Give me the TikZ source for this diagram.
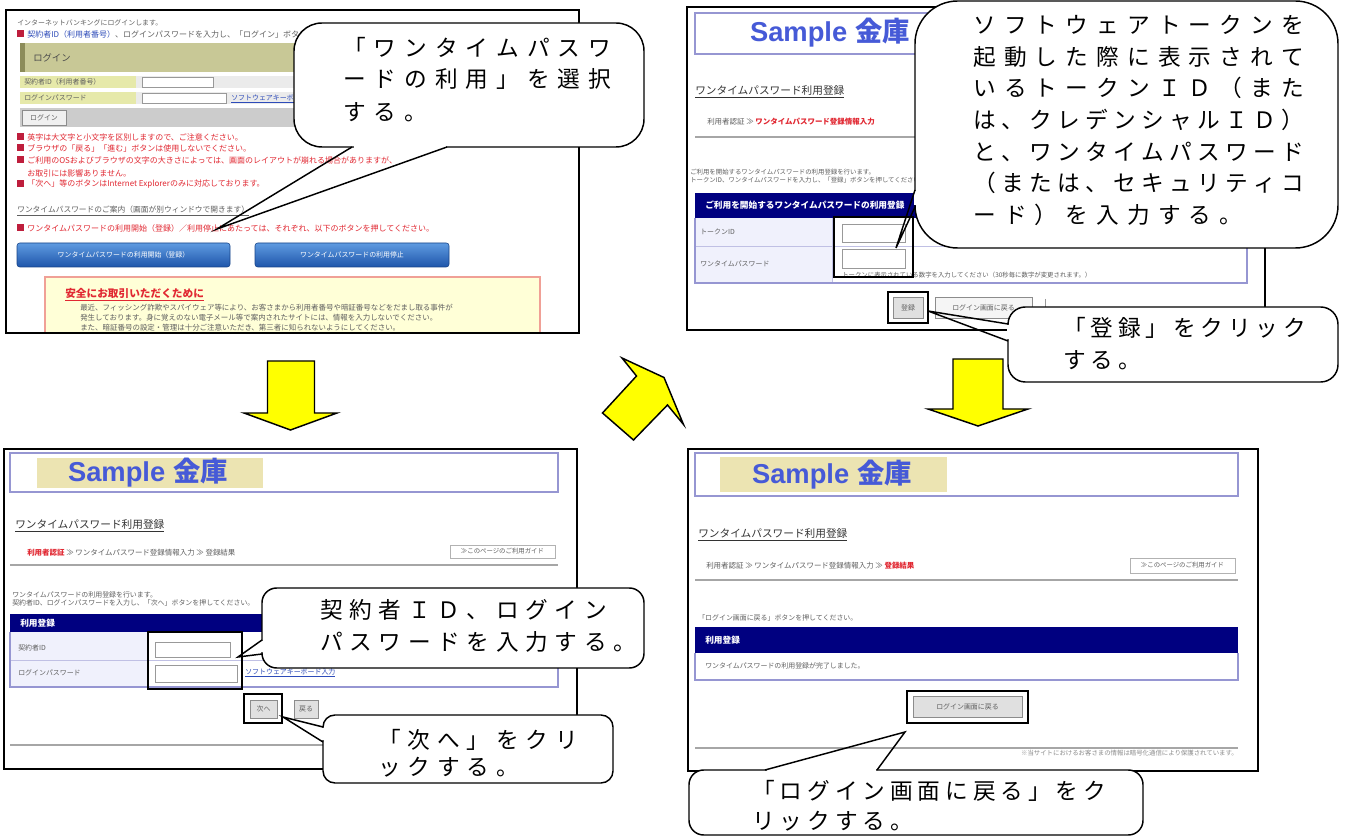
\documentclass[tikz,border=0pt]{standalone}
\usepackage{fontspec}
\setmainfont{Noto Sans CJK JP}
\newfontfamily\jpf{Noto Sans CJK JP}
\newfontfamily\latf{Liberation Sans}
\definecolor{navyc}{RGB}{0,0,128}
\definecolor{lav}{RGB}{150,150,210}
\definecolor{lablbg}{RGB}{240,241,252}
\definecolor{tanc}{RGB}{236,228,178}
\definecolor{olivec}{RGB}{200,200,150}
\definecolor{olived}{RGB}{140,140,90}
\definecolor{p1lbl}{RGB}{230,233,170}
\definecolor{txtg}{RGB}{95,95,95}
\definecolor{redt}{RGB}{225,40,50}
\definecolor{bulr}{RGB}{190,30,60}
\definecolor{linkb}{RGB}{45,75,185}
\definecolor{ttlb}{RGB}{70,90,215}
\definecolor{btnt}{RGB}{95,155,225}
\definecolor{btnb}{RGB}{30,85,170}
\definecolor{yelbox}{RGB}{255,255,215}
\definecolor{yelbd}{RGB}{240,160,150}
\definecolor{arry}{RGB}{255,255,0}
\makeatletter
\newlength\cpitch
\newcommand\ltr[2]{\setlength\cpitch{#1}\@tfor\pchr:=#2\do{\makebox[\cpitch][l]{\pchr}}}
\makeatother
\tikzset{
  pframe/.style={draw=black, line width=1.1pt},
  pframethick/.style={draw=black, line width=1.6pt},
  hlbox/.style={draw=black, line width=1.4pt},
  cbody/.style={fill=white, draw=black, line width=1.1pt, inner sep=0pt, outer sep=0pt},
  cptr/.style={draw=black, line width=1.1pt, line join=miter},
  cgap/.style={draw=white, line width=2.2pt},
  cline/.style={anchor=west, inner sep=0pt, font=\jpf\fontsize{17}{20}\selectfont},
  stx/.style={anchor=west, inner sep=0pt, text=txtg, font=\jpf\fontsize{5.2}{6}\selectfont},
  stxm/.style={stx, font=\jpf\fontsize{5.6}{6}\selectfont},
  stxs/.style={stx, font=\jpf\fontsize{4.8}{5}\selectfont},
  stxr/.style={stx, text=redt, font=\jpf\fontsize{6}{7}\selectfont},
  stxw/.style={stx, text=white, font=\jpf\bfseries\fontsize{6.5}{7}\selectfont},
  hd/.style={anchor=west, inner sep=0pt, text=black!80, font=\jpf\fontsize{8}{9}\selectfont},
  ttl/.style={inner sep=0pt, text=ttlb, font=\bfseries\fontsize{20.5}{22}\selectfont},
  arrowy/.style={fill=arry, draw=black, line width=1.1pt, line join=miter},
  btn/.style={fill=black!12, draw=black!45, line width=0.5pt},
  inbox/.style={fill=white, draw=black!40, line width=0.5pt},
  thinl/.style={draw=black!35, line width=0.8pt},
  lavl/.style={draw=lav, line width=0.9pt},
  lavd/.style={draw=lav!60, line width=0.6pt},
}
\begin{document}
\begin{tikzpicture}[x=0.75pt,y=-0.75pt]
\useasboundingbox (0,0) rectangle (1347,837);
\fill[white] (0,0) rectangle (1347,837);

%% ================= Panel 1 =================
\begin{scope}
\clip (6,10) rectangle (579,333);
\node[stx] (p1a) at (17,23) {インターネットバンキングにログインします。};
\fill[bulr] (17,30.5) rectangle (24,37.5);
\node[stx, font=\jpf\fontsize{6}{7}\selectfont] (p1b) at (27,34) {\textcolor{linkb}{契約者ID（利用者番号）}、ログインパスワードを入力し、「ログイン」ボタンを押してください。};
\fill[olivec] (20,43) rectangle (577,72);
\fill[olived] (20,43) rectangle (25,72);
\node[stx, text=black!70, font=\jpf\fontsize{7}{8}\selectfont] (p1c) at (33,58) {ログイン};
\fill[p1lbl] (20,76) rectangle (136,88);
\fill[black!8] (136,76) rectangle (577,88);
\fill[p1lbl] (20,92) rectangle (136,104);
\fill[black!8] (136,92) rectangle (577,104);
\node[stx] (p1d) at (24,82) {契約者ID（利用者番号）};
\node[stx] (p1e) at (24,98) {ログインパスワード};
\draw[inbox] (142,77) rectangle (213,87);
\draw[inbox] (142,93) rectangle (226,103);
\node[stx, text=linkb] (p1f) at (231,99) {\underline{ソフトウェアキーボード入力}};
\fill[black!20] (20,108) rectangle (577,127);
\draw[btn, fill=black!6] (22,110) rectangle (66,125);
\node[stx, anchor=center] (p1g) at (44,117.5) {ログイン};
\fill[bulr] (17,133.5) rectangle (24,140.5);
\node[stxr] (p1h) at (27,137) {英字は大文字と小文字を区別しますので、ご注意ください。};
\fill[bulr] (17,144.5) rectangle (24,151.5);
\node[stxr] (p1i) at (27,148) {ブラウザの「戻る」「進む」ボタンは使用しないでください。};
\fill[bulr] (17,156.5) rectangle (24,163.5);
\node[stxr] (p1j) at (27,160) {ご利用のOSおよびブラウザの文字の大きさによっては、画面のレイアウトが崩れる場合がありますが、};
\node[stxr] (p1k) at (27,173) {お取引には影響ありません。};
\fill[bulr] (17,180.5) rectangle (24,187.5);
\node[stxr] (p1l) at (27,184) {「次へ」等のボタンはInternet Explorerのみに対応しております。};
\node[stx, font=\jpf\fontsize{5.8}{6}\selectfont] (p1m) at (17,211) {\underline{ワンタイムパスワードのご案内（画面が別ウィンドウで開きます）}};
\fill[bulr] (17,224.5) rectangle (24,231.5);
\node[stxr] (p1n) at (27,228) {ワンタイムパスワードの利用開始（登録）／利用停止にあたっては、それぞれ、以下のボタンを押してください。};
\draw[rounded corners=2pt, top color=btnt, bottom color=btnb, draw=btnb!80!black] (17,243) rectangle (230,267);
\node[stx, anchor=center, text=white] (p1o) at (123.5,255) {ワンタイムパスワードの利用開始（登録）};
\draw[rounded corners=2pt, top color=btnt, bottom color=btnb, draw=btnb!80!black] (255,243) rectangle (449,267);
\node[stx, anchor=center, text=white] (p1p) at (352,255) {ワンタイムパスワードの利用停止};
\draw[fill=yelbox, draw=yelbd, line width=0.8pt] (45,277) rectangle (540,345);
\node[stx, text=redt, font=\jpf\bfseries\fontsize{8}{9}\selectfont] (p1q) at (65,295) {\underline{安全にお取引いただくために}};
\begin{scope}
\clip (45,277) rectangle (537,345);
\node[stx, font=\jpf\fontsize{5.6}{6}\selectfont] (p1r) at (80,308) {最近、フィッシング詐欺やスパイウェア等により、お客さまから利用者番号や暗証番号などをだまし取る事件が};
\node[stx, font=\jpf\fontsize{5.6}{6}\selectfont] (p1s) at (80,318) {発生しております。身に覚えのない電子メール等で案内されたサイトには、情報を入力しないでください。};
\node[stx, font=\jpf\fontsize{5.6}{6}\selectfont] (p1t) at (80,328) {また、暗証番号の設定・管理は十分ご注意いただき、第三者に知られないようにしてください。};
\end{scope}
\end{scope}
\draw[pframethick] (6,10) rectangle (579,333);

%% ================= Panel 2 =================
\begin{scope}
\clip (687,7) rectangle (1265,330);
\draw[lavl, line width=0.8pt] (695,13) rectangle (1255,54);
\node[ttl] (p2t) at (830,33) {{\latf Sample}\hspace{6pt}{\jpf 金庫}};
\node[hd] (p2a) at (695,92) {\underline{ワンタイムパスワード利用登録}};
\node[stxm] (p2b) at (707,122) {利用者認証 ≫ \textcolor{redt}{\bfseries ワンタイムパスワード登録情報入力}};
\draw[thinl] (695,137) -- (1255,137);
\node[stxs] (p2c) at (690,172) {ご利用を開始するワンタイムパスワードの利用登録を行います。};
\node[stxs] (p2d) at (690,180) {トークンID、ワンタイムパスワードを入力し、「登録」ボタンを押してください。};
\fill[navyc] (695,193) rectangle (1247,218);
\node[stxw] (p2e) at (705,205) {ご利用を開始するワンタイムパスワードの利用登録};
\fill[lablbg] (695,218) rectangle (832,283);
\draw[lavd] (695,246) -- (1247,246);
\draw[lavd] (832,218) -- (832,283);
\draw[lavl] (695,218) -- (695,283) -- (1247,283) -- (1247,218);
\node[stx] (p2f) at (700,232) {トークンID};
\node[stx] (p2g) at (700,264) {ワンタイムパスワード};
\draw[inbox] (842,224) rectangle (905,242);
\draw[inbox] (842,249) rectangle (905,268);
\node[stxs] (p2h) at (842,275) {トークンに表示されている数字を入力してください（30秒毎に数字が変更されます。）};
\draw[btn] (893,297) rectangle (923,318);
\node[stx, anchor=center] (p2i) at (908,307.5) {登録};
\draw[btn, fill=black!4] (935,297) rectangle (1032,318);
\node[stx, anchor=center] (p2j) at (983.5,307.5) {ログイン画面に戻る};
\draw[draw=black!40] (1045,299) -- (1045,316);
\end{scope}
\draw[pframe] (687,7) rectangle (1265,330);

%% ================= Panel 3 =================
\begin{scope}
\clip (4,449) rectangle (577,769);
\draw[lavl, line width=0.8pt] (10,453) rectangle (558,492);
\fill[tanc] (37,458) rectangle (263,488);
\node[ttl] (p3t) at (148,473) {{\latf Sample}\hspace{6pt}{\jpf 金庫}};
\node[hd] (p3a) at (15,526) {\underline{ワンタイムパスワード利用登録}};
\node[stxm] (p3b) at (27,553) {\textcolor{redt}{\bfseries 利用者認証} ≫ ワンタイムパスワード登録情報入力 ≫ 登録結果};
\draw[inbox, draw=black!30] (450,545) rectangle (555,558);
\node[stxs, anchor=center] (p3c) at (502.5,551.5) {≫このページのご利用ガイド};
\draw[thinl] (10,565) -- (558,565);
\node[stx] (p3d) at (12,595) {ワンタイムパスワードの利用登録を行います。};
\node[stx] (p3e) at (12,603) {契約者ID、ログインパスワードを入力し、「次へ」ボタンを押してください。};
\fill[navyc] (10,614) rectangle (558,632);
\node[stxw] (p3f) at (20,623) {利用登録};
\fill[lablbg] (10,632) rectangle (147,687);
\draw[lavd] (10,660) -- (558,660);
\draw[lavd] (147,632) -- (147,687);
\draw[lavl] (10,632) -- (10,687) -- (558,687) -- (558,632);
\node[stx] (p3g) at (18,648) {契約者ID};
\node[stx] (p3h) at (18,673) {ログインパスワード};
\draw[inbox] (155,642) rectangle (230,657);
\draw[inbox] (155,665) rectangle (237,682);
\node[stx, text=linkb] (p3i) at (245,673) {\underline{ソフトウェアキーボード入力}};
\draw[btn] (250,700) rectangle (277,718);
\node[stx, anchor=center] (p3j) at (263.5,709) {次へ};
\draw[btn] (294,700) rectangle (318,718);
\node[stx, anchor=center] (p3k) at (306,709) {戻る};
\draw[thinl] (10,745) -- (558,745);
\end{scope}
\draw[pframe] (4,449) rectangle (577,769);

%% ================= Panel 4 =================
\begin{scope}
\clip (688,449) rectangle (1258,771);
\draw[lavl, line width=0.8pt] (695,453) rectangle (1238,496);
\fill[tanc] (720,457) rectangle (947,492);
\node[ttl] (p4t) at (832,475) {{\latf Sample}\hspace{6pt}{\jpf 金庫}};
\node[hd] (p4a) at (698,535) {\underline{ワンタイムパスワード利用登録}};
\node[stxm] (p4b) at (706,566) {利用者認証 ≫ ワンタイムパスワード登録情報入力 ≫ \textcolor{redt}{\bfseries 登録結果}};
\draw[inbox, draw=black!30] (1130,558) rectangle (1235,573);
\node[stxs, anchor=center] (p4c) at (1182.5,565.5) {≫このページのご利用ガイド};
\draw[thinl] (695,580) -- (1238,580);
\node[stx] (p4d) at (698,618) {「ログイン画面に戻る」ボタンを押してください。};
\fill[navyc] (695,627) rectangle (1238,653);
\node[stxw] (p4e) at (705,640) {利用登録};
\draw[lavl] (695,653) -- (695,680) -- (1238,680) -- (1238,653);
\node[stx] (p4f) at (705,666) {ワンタイムパスワードの利用登録が完了しました。};
\draw[btn] (913,696) rectangle (1022,717);
\node[stx, anchor=center] (p4g) at (967.5,706.5) {ログイン画面に戻る};
\draw[thinl] (695,748) -- (1238,748);
\node[stxs, anchor=east, text=black!45] (p4h) at (1238,753) {※当サイトにおけるお客さまの情報は暗号化通信により保護されています。};
\end{scope}
\draw[pframe] (688,449) rectangle (1258,771);

%% ================= highlight boxes =================
\draw[hlbox] (834,217) rectangle (913,277);
\draw[hlbox] (888,292) rectangle (928,323);
\draw[hlbox] (148,632) rectangle (242,689);
\draw[hlbox] (244,694) rectangle (282,723);
\draw[hlbox] (907,691) rectangle (1028,723);

%% ================= arrows =================
\draw[arrowy] (267.5,361) -- (314.5,361) -- (314.5,413) -- (337,413) -- (290.5,430) -- (244,413) -- (267.5,413) -- cycle;
\draw[arrowy] (953,359) -- (1003,359) -- (1003,409) -- (1028,409) -- (978,426) -- (928,409) -- (953,409) -- cycle;
\draw[arrowy] (622,358) -- (664,377.5) -- (683.5,424.5) -- (667.5,405) -- (633.5,440) -- (602.5,413) -- (636.5,376) -- cycle;

%% ================= callouts =================
% callout 1
\node[cbody, rounded corners=21pt, minimum width=262.5pt, minimum height=93pt] (c1) at (469,85) {};
\coordinate (c1p) at (217,229);
\coordinate (c1a) at (352,147);
\coordinate (c1b) at (447,147);
\draw[cgap] (353.5,147) -- (445.5,147);
\draw[cptr] (c1a) -- (c1p) -- (c1b);
\node[cline] (c1l1) at (343,47) {\ltr{23pt}{「ワンタイムパスワ}};
\node[cline] (c1l2) at (343,79) {\ltr{23pt}{ードの利用」を選択}};
\node[cline] (c1l3) at (343,112) {\ltr{23pt}{する。}};

% callout 2
\node[cbody, rounded corners=32pt, minimum width=317.25pt, minimum height=185.25pt] (c2) at (1126.5,124.5) {};
\coordinate (c2p) at (896,248);
\coordinate (c2a) at (915,190);
\coordinate (c2b) at (915,207);
\draw[cgap] (915,191.5) -- (915,205.5);
\draw[cptr] (c2a) -- (c2p) -- (c2b);
\node[cline] (c2l1) at (973,25) {\ltr{23.1pt}{ソフトウェアトークンを}};
\node[cline] (c2l2) at (973,56.7) {\ltr{23.1pt}{起動した際に表示されて}};
\node[cline] (c2l3) at (973,88.3) {\ltr{23.1pt}{いるトークンＩＤ（また}};
\node[cline] (c2l4) at (973,120) {\ltr{21pt}{は、クレデンシャルＩＤ）}};
\node[cline] (c2l5) at (973,151.7) {\ltr{21pt}{と、ワンタイムパスワード}};
\node[cline] (c2l6) at (973,183.3) {\ltr{21pt}{（または、セキュリティコ}};
\node[cline] (c2l7) at (973,215) {\ltr{23.1pt}{ード）を入力する。}};

% callout 3
\node[cbody, rounded corners=13pt, minimum width=247.5pt, minimum height=56.25pt] (c3) at (1173,344.5) {};
\coordinate (c3p) at (928,311);
\coordinate (c3a) at (1008,324);
\coordinate (c3b) at (1008,341);
\draw[cgap] (1008,325.5) -- (1008,339.5);
\draw[cptr] (c3a) -- (c3p) -- (c3b);
\node[cline] (c3l1) at (1063,328) {\ltr{20.6pt}{「登録」をクリック}};
\node[cline] (c3l2) at (1063,360) {\ltr{20.6pt}{する。}};

% callout 4
\node[cbody, rounded corners=11pt, minimum width=286.5pt, minimum height=60pt] (c4) at (453,628) {};
\coordinate (c4p) at (238,657);
\coordinate (c4a) at (262,640);
\coordinate (c4b) at (262,654);
\draw[cgap] (262,641.5) -- (262,652.5);
\draw[cptr] (c4a) -- (c4p) -- (c4b);
\node[cline] (c4l1) at (320,610) {\ltr{22pt}{契約者ＩＤ、ログイン}};
\node[cline] (c4l2) at (320,642) {\ltr{22pt}{パスワードを入力する。}};

% callout 5
\node[cbody, rounded corners=9pt, minimum width=217.5pt, minimum height=51pt] (c5) at (468,749) {};
\coordinate (c5p) at (283,717);
\coordinate (c5a) at (323,727);
\coordinate (c5b) at (323,742);
\draw[cgap] (323,728.5) -- (323,740.5);
\draw[cptr] (c5a) -- (c5p) -- (c5b);
\node[cline] (c5l1) at (378,740) {\ltr{22.1pt}{「次へ」をクリ}};
\node[cline] (c5l2) at (378,767) {\ltr{22.1pt}{ックする。}};

% callout 6
\node[cbody, rounded corners=11pt, minimum width=340.5pt, minimum height=48.75pt] (c6) at (916,802.5) {};
\coordinate (c6p) at (905,732);
\coordinate (c6a) at (765,770);
\coordinate (c6b) at (877,770);
\draw[cgap] (766.5,770) -- (875.5,770);
\draw[cptr] (c6a) -- (c6p) -- (c6b);
\node[cline] (c6l1) at (752,791) {\ltr{20.7pt}{「ログイン画面に戻る」をク}};
\node[cline] (c6l2) at (752,821) {\ltr{20.7pt}{リックする。}};
\end{tikzpicture}
\end{document}
